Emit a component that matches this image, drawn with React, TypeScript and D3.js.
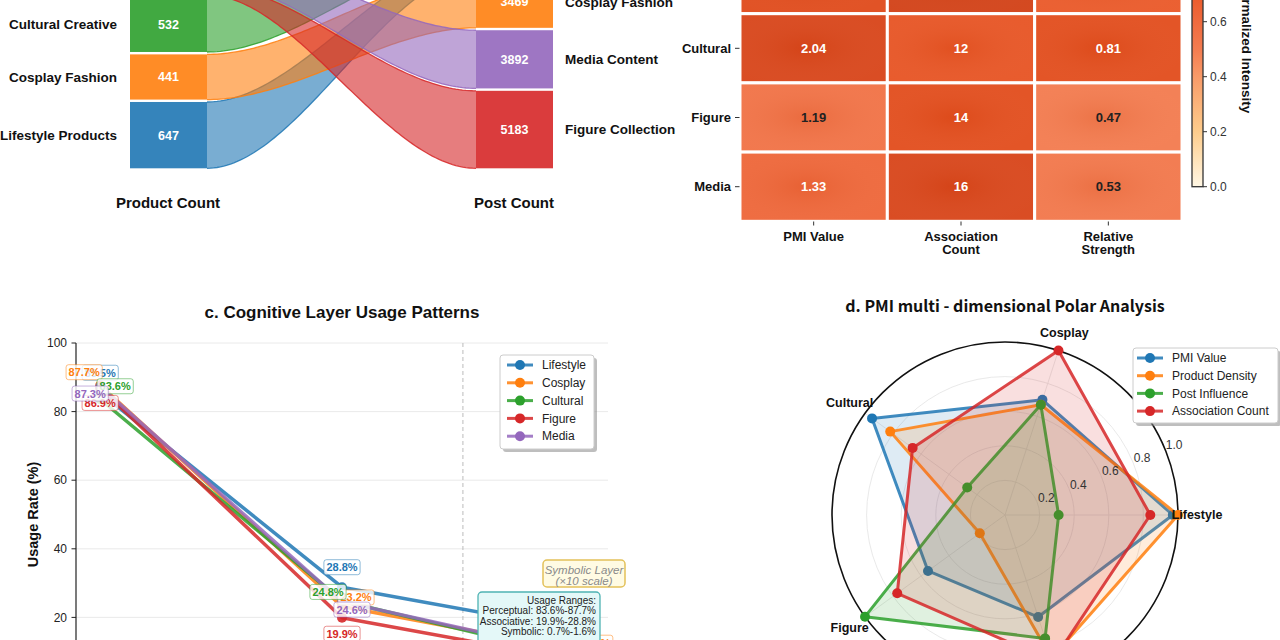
import React from "react";
import * as d3 from "d3";

const FONT = "'Liberation Sans', Arial, Helvetica, sans-serif";
const FONT_D = "'Noto Sans CJK SC', 'Noto Sans', sans-serif";

// ---------- Panel a : product / post flow ----------
const categoryNames = ["Lifestyle Products", "Cosplay Fashion", "Cultural Creative", "Figure Collection", "Media Content"];
const productCounts = [647, 441, 532, 100, 290];
const postCounts = [1000, 3469, 320, 5183, 3892];
const productStackBottomUp = [0, 1, 2, 3, 4];
const postStackBottomUp = [3, 4, 1, 0, 2];
const categoryColors = ["#1f77b4", "#ff7f0e", "#2ca02c", "#d62728", "#9467bd"];

// ---------- Panel b : heatmap ----------
const heatRows = ["Cosplay", "Cultural", "Figure", "Media"];
const heatCols = [["PMI Value"], ["Association", "Count"], ["Relative", "Strength"]];
const pmiValues = [1.76, 2.04, 1.19, 1.33];
const associationCounts = [18, 12, 14, 16];
const relativeStrength = [0.7, 0.81, 0.47, 0.53];
const intensityPMI = [0.82, 0.88, 0.55, 0.62];
const intensityAssoc = [0.92, 0.74, 0.8, 0.88];
const intensityRS = [0.7, 0.8, 0.5, 0.52];
const colorbarTicks = [0, 0.2, 0.4, 0.6, 0.8, 1.0];

// ---------- Panel c : layer usage ----------
const layerNames = ["Perceptual", "Associative", "Symbolic"];
const seriesNames = ["Lifestyle", "Cosplay", "Cultural", "Figure", "Media"];
const perceptualRates = [85.5, 87.7, 83.6, 86.9, 87.3];
const associativeRates = [28.8, 23.2, 24.8, 19.9, 24.6];
const symbolicRates = [1.6, 1.0, 0.8, 0.7, 0.9];
const symbolicScale = 10;
const yTicksC = [0, 20, 40, 60, 80, 100];

// ---------- Panel d : polar ----------
const polarAxes = ["Lifestyle", "Cosplay", "Cultural", "Figure", "Media"];
const polarSeries = ["PMI Value", "Product Density", "Post Influence", "Association Count"];
const pmiNorm = [0.97, 0.7, 0.95, 0.55, 0.62];
const productDensity = [1.0, 0.67, 0.82, 0.18, 0.87];
const postInfluence = [0.31, 0.67, 0.27, 1.0, 0.75];
const associationNorm = [0.84, 1.0, 0.66, 0.77, 0.89];
const polarTicks = [0.2, 0.4, 0.6, 0.8, 1.0];

// label offsets (style) for panel c annotations, per layer, per series
const labelOffsets = [
  [[0, -20], [-16, -13], [15, -13], [0, 15], [-10, 7]],
  [[0, -20], [14, -9], [-14, -9], [0, 16], [10, 8]],
  [[0, -20], [14, -9], [-14, -9], [0, 16], [10, 8]],
];

let _ctx: CanvasRenderingContext2D | null = null;
function measure(text: string, font: string) {
  if (!_ctx) _ctx = document.createElement("canvas").getContext("2d");
  if (!_ctx) return text.length * 6;
  _ctx.font = font;
  return _ctx.measureText(text).width;
}

const smooth = (f: number) => f * f * (3 - 2 * f);

function Sankey() {
  const xL0 = 130, xL1 = 207, xR0 = 476, xR1 = 553, base = 168.3, gap = 2.4;
  const hProd = d3.scaleLinear().domain([0, 1000]).range([0, 102.5]);
  const hPost = d3.scaleLinear().domain([0, 1000]).range([0, 14.95]);
  const stack = (order: number[], vals: number[], h: any) => {
    const out: [number, number][] = [];
    let y = base;
    order.forEach((i) => {
      const hh = h(vals[i]);
      out[i] = [y - hh, y];
      y -= hh + gap;
    });
    return out;
  };
  const L = stack(productStackBottomUp, productCounts, hProd);
  const R = stack(postStackBottomUp, postCounts, hPost);
  const xs = d3.scaleLinear().domain([0, 1]).range([xL1, xR0]);
  const fs = d3.range(0, 81).map((k) => k / 80);
  return (
    <g>
      {categoryNames.map((_, i) => {
        const [lt, lb] = L[i];
        const [rt, rb] = R[i];
        const yt = (f: number) => lt + (rt - lt) * smooth(f);
        const yb = (f: number) => lb + (rb - lb) * smooth(f);
        const area = d3.area<number>().x((f) => xs(f)).y0(yt).y1(yb)(fs) || "";
        const top = d3.line<number>().x((f) => xs(f)).y(yt)(fs) || "";
        const bot = d3.line<number>().x((f) => xs(f)).y(yb)(fs) || "";
        const c = categoryColors[i];
        return (
          <g key={i}>
            <path d={area} fill={c} fillOpacity={0.6} />
            <path d={top} fill="none" stroke={c} strokeWidth={1.3} strokeOpacity={0.85} />
            <path d={bot} fill="none" stroke={c} strokeWidth={1.3} strokeOpacity={0.85} />
          </g>
        );
      })}
      {categoryNames.map((name, i) => {
        const [lt, lb] = L[i];
        const [rt, rb] = R[i];
        const c = categoryColors[i];
        return (
          <g key={"n" + i}>
            <rect x={xL0} y={lt} width={xL1 - xL0} height={lb - lt} fill={c} fillOpacity={0.9} />
            <rect x={xR0} y={rt} width={xR1 - xR0} height={rb - rt} fill={c} fillOpacity={0.9} />
            <text x={(xL0 + xL1) / 2} y={(lt + lb) / 2} dy="0.35em" textAnchor="middle" fill="#fff" fontWeight="bold" fontSize={12.5}>{productCounts[i]}</text>
            <text x={(xR0 + xR1) / 2} y={(rt + rb) / 2} dy="0.35em" textAnchor="middle" fill="#fff" fontWeight="bold" fontSize={12.5}>{postCounts[i]}</text>
            <text x={117} y={(lt + lb) / 2} dy="0.35em" textAnchor="end" fill="#111" fontWeight="bold" fontSize={13.5}>{name}</text>
            <text x={565} y={(rt + rb) / 2} dy="0.35em" textAnchor="start" fill="#111" fontWeight="bold" fontSize={13.5}>{name}</text>
          </g>
        );
      })}
      <text x={168} y={203} dy="0.35em" textAnchor="middle" fontWeight="bold" fontSize={15} fill="#111">Product Count</text>
      <text x={514} y={203} dy="0.35em" textAnchor="middle" fontWeight="bold" fontSize={15} fill="#111">Post Count</text>
    </g>
  );
}

const heatColor = d3
  .scaleLinear<string>()
  .domain([0, 0.2, 0.4, 0.5, 0.6, 0.7, 0.8, 0.9, 1])
  .range(["#fff7e4", "#fdcc8c", "#f89a68", "#f37c50", "#ef6a3e", "#ea5a2a", "#e24e1e", "#d6441a", "#c23a12"])
  .interpolate(d3.interpolateRgb);

function Heatmap() {
  const x = d3.scaleBand<number>().domain([0, 1, 2]).range([740, 1182]);
  const y = d3.scaleBand<string>().domain(heatRows).range([-55.5, 221.3]);
  const values = [pmiValues, associationCounts, relativeStrength];
  const intens = [intensityPMI, intensityAssoc, intensityRS];
  const fmt = [d3.format(".2f"), d3.format("d"), d3.format(".2f")];
  const cb = d3.scaleLinear().domain([0, 1]).range([186.7, -88.3]);
  const stops = d3.range(0, 21).map((k) => k / 20);
  return (
    <g>
      <defs>
        <linearGradient id="cbgrad" x1="0" y1="1" x2="0" y2="0">
          {stops.map((s) => (
            <stop key={s} offset={s} stopColor={heatColor(s)} />
          ))}
        </linearGradient>
        <radialGradient id="cellShade" cx="0.45" cy="0.5" r="0.6">
          <stop offset="0" stopColor="#b83000" stopOpacity={0.12} />
          <stop offset="1" stopColor="#ffffff" stopOpacity={0.04} />
        </radialGradient>
      </defs>
      {heatRows.map((r, ri) =>
        [0, 1, 2].map((ci) => {
          const v = intens[ci][ri];
          const bx = x(ci)!, by = y(r)!;
          return (
            <g key={r + ci}>
              <rect x={bx} y={by} width={x.bandwidth()} height={y.bandwidth()} fill={heatColor(v)} stroke="#fff" strokeWidth={3} />
              <rect x={bx + 1.5} y={by + 1.5} width={x.bandwidth() - 3} height={y.bandwidth() - 3} fill="url(#cellShade)" />
              <text x={bx + x.bandwidth() / 2} y={by + y.bandwidth() / 2} dy="0.35em" textAnchor="middle" fontWeight="bold" fontSize={13} fill={v > 0.6 ? "#fff" : "#222"}>
                {fmt[ci](values[ci][ri])}
              </text>
            </g>
          );
        })
      )}
      {heatRows.map((r) => (
        <g key={"yl" + r}>
          <line x1={735} x2={739.5} y1={y(r)! + y.bandwidth() / 2} y2={y(r)! + y.bandwidth() / 2} stroke="#333" strokeWidth={1} />
          <text x={731} y={y(r)! + y.bandwidth() / 2} dy="0.35em" textAnchor="end" fontWeight="bold" fontSize={13} fill="#111">{r}</text>
        </g>
      ))}
      {heatCols.map((lines, ci) => (
        <g key={"xl" + ci}>
          <line x1={x(ci)! + x.bandwidth() / 2} x2={x(ci)! + x.bandwidth() / 2} y1={221.5} y2={225.5} stroke="#333" strokeWidth={1} />
          {lines.map((t, k) => (
            <text key={k} x={x(ci)! + x.bandwidth() / 2} y={236 + k * 13.5} dy="0.35em" textAnchor="middle" fontWeight="bold" fontSize={13} fill="#111">{t}</text>
          ))}
        </g>
      ))}
      <rect x={1192} y={cb(1)} width={11} height={cb(0) - cb(1)} fill="url(#cbgrad)" stroke="#333" strokeWidth={1.3} />
      {colorbarTicks.map((t) => (
        <g key={"cb" + t}>
          <line x1={1203} x2={1207} y1={cb(t)} y2={cb(t)} stroke="#333" strokeWidth={1} />
          <text x={1210} y={cb(t)} dy="0.35em" fontSize={12} fill="#333">{t.toFixed(1)}</text>
        </g>
      ))}
      <text transform={`translate(1247,${(cb(0) + cb(1)) / 2 - 2}) rotate(90)`} textAnchor="middle" dy="0.35em" fontWeight="bold" fontSize={13.5} fill="#111">Normalized Intensity</text>
    </g>
  );
}

function LegendBox({ x, y, w, h, items, colors, hx0, hx1, tx, step, y0 }: any) {
  return (
    <g>
      <rect x={x + 3} y={y + 3} width={w} height={h} rx={3} fill="#888" fillOpacity={0.55} />
      <rect x={x} y={y} width={w} height={h} rx={3} fill="#fff" stroke="#ccc" strokeWidth={1} />
      {items.map((it: string, i: number) => (
        <g key={it}>
          <line x1={hx0} x2={hx1} y1={y0 + i * step} y2={y0 + i * step} stroke={colors[i]} strokeWidth={3} strokeOpacity={0.85} />
          <circle cx={(hx0 + hx1) / 2} cy={y0 + i * step} r={5} fill={colors[i]} />
          <text x={tx} y={y0 + i * step} dy="0.35em" fontSize={12} fill="#222">{it}</text>
        </g>
      ))}
    </g>
  );
}

function LinePanel() {
  const x = d3.scaleLinear().domain([-0.1, 2.1]).range([76, 608]);
  const y = d3.scaleLinear().domain([0, 100]).range([686, 343]);
  const lineGen = d3.line<[number, number]>().x((d) => x(d[0])).y((d) => y(d[1]));
  const series = seriesNames.map((_, i) => [perceptualRates[i], associativeRates[i], symbolicRates[i] * symbolicScale]);
  const raw = seriesNames.map((_, i) => [perceptualRates[i], associativeRates[i], symbolicRates[i]]);
  const lblFont = `bold 11px ${FONT}`;
  const pMin = d3.min(perceptualRates)!, pMax = d3.max(perceptualRates)!;
  const aMin = d3.min(associativeRates)!, aMax = d3.max(associativeRates)!;
  const sMin = d3.min(symbolicRates)!, sMax = d3.max(symbolicRates)!;
  const rangeLines = [
    "Usage Ranges:",
    `Perceptual: ${pMin.toFixed(1)}%-${pMax.toFixed(1)}%`,
    `Associative: ${aMin.toFixed(1)}%-${aMax.toFixed(1)}%`,
    `Symbolic: ${sMin.toFixed(1)}%-${sMax.toFixed(1)}%`,
  ];
  return (
    <g>
      <text x={342} y={312} dy="0.35em" textAnchor="middle" fontWeight="bold" fontSize={17} fill="#111">c. Cognitive Layer Usage Patterns</text>
      {yTicksC.map((t) => (
        <line key={"g" + t} x1={76} x2={608} y1={y(t)} y2={y(t)} stroke="#e4e4e4" strokeWidth={0.8} />
      ))}
      <line x1={x(1.5)} x2={x(1.5)} y1={y(100)} y2={y(0)} stroke="#bbb" strokeWidth={1} strokeDasharray="4,3" />
      <line x1={76} x2={76} y1={y(100)} y2={y(0)} stroke="#222" strokeWidth={1.2} />
      {yTicksC.map((t) => (
        <g key={"t" + t}>
          <line x1={71.5} x2={76} y1={y(t)} y2={y(t)} stroke="#222" strokeWidth={1} />
          <text x={67} y={y(t)} dy="0.35em" textAnchor="end" fontSize={12} fill="#222">{t}</text>
        </g>
      ))}
      <text transform={`translate(33,${(y(0) + y(100)) / 2}) rotate(-90)`} textAnchor="middle" dy="0.35em" fontWeight="bold" fontSize={14.5} fill="#111">Usage Rate (%)</text>
      {series.map((s, i) => (
        <g key={"s" + i}>
          <path d={lineGen(s.map((v, k) => [k, v] as [number, number])) || ""} fill="none" stroke={categoryColors[i]} strokeWidth={3.5} strokeOpacity={0.85} strokeLinejoin="round" />
          {s.map((v, k) => (
            <circle key={k} cx={x(k)} cy={y(v)} r={5} fill={categoryColors[i]} fillOpacity={0.9} />
          ))}
        </g>
      ))}
      {layerNames.map((_, k) =>
        series.map((s, i) => {
          const label = `${raw[i][k].toFixed(1)}%`;
          const w = measure(label, lblFont) + 5;
          const cx = x(k) + labelOffsets[k][i][0];
          const cy = y(s[k]) + labelOffsets[k][i][1];
          return (
            <g key={"l" + k + i}>
              <rect x={cx - w / 2} y={cy - 7.5} width={w} height={15} rx={2.5} fill="#fff" fillOpacity={0.82} stroke={categoryColors[i]} strokeOpacity={0.5} strokeWidth={1} />
              <text x={cx} y={cy} dy="0.36em" textAnchor="middle" fontWeight="bold" fontSize={11} fill={categoryColors[i]}>{label}</text>
            </g>
          );
        })
      )}
      <LegendBox x={500} y={355} w={94} h={94} items={seriesNames} colors={categoryColors} hx0={507} hx1={533} tx={542} step={17.8} y0={365} />
      <rect x={543} y={560} width={82} height={27} rx={4} fill="#fffbe3" stroke="#e3c15a" strokeWidth={1.5} />
      <text x={584} y={569.5} dy="0.35em" textAnchor="middle" fontStyle="italic" fontSize={11.5} fill="#8a8a8a">Symbolic Layer</text>
      <text x={584} y={581} dy="0.35em" textAnchor="middle" fontStyle="italic" fontSize={11.5} fill="#8a8a8a">(×10 scale)</text>
      <rect x={478} y={592} width={122} height={60} rx={4} fill="#e4f8f8" stroke="#4fb3b3" strokeWidth={1.3} />
      {rangeLines.map((t, k) => (
        <text key={t} x={596} y={600.5 + k * 10.3} dy="0.35em" textAnchor="end" fontSize={10} fill="#222">{t}</text>
      ))}
    </g>
  );
}

function PolarPanel() {
  const cx = 1005, cy = 515, R = 173;
  const r = d3.scaleLinear().domain([0, 1]).range([0, R]);
  const ang = (k: number) => (k * 2 * Math.PI) / polarAxes.length;
  const pt = (k: number, v: number): [number, number] => [cx + r(v) * Math.cos(ang(k)), cy - r(v) * Math.sin(ang(k))];
  const data = [pmiNorm, productDensity, postInfluence, associationNorm];
  const tickAng = (22.5 * Math.PI) / 180;
  return (
    <g>
      <text x={1005} y={306} dy="0.35em" textAnchor="middle" fontWeight="bold" fontSize={16} fill="#111" fontFamily={FONT_D}>d. PMI multi - dimensional Polar Analysis</text>
      {polarTicks.slice(0, -1).map((t) => (
        <circle key={"c" + t} cx={cx} cy={cy} r={r(t)} fill="none" stroke="#e6e6e6" strokeWidth={0.9} />
      ))}
      {polarAxes.map((_, k) => {
        const [px, py] = pt(k, 1);
        return <line key={"sp" + k} x1={cx} y1={cy} x2={px} y2={py} stroke="#e6e6e6" strokeWidth={0.9} />;
      })}
      <circle cx={cx} cy={cy} r={R} fill="none" stroke="#111" strokeWidth={1.6} />
      {data.map((vals, s) => {
        const pts = vals.map((v, k) => pt(k, v));
        const d = d3.line().curve(d3.curveLinearClosed)(pts) || "";
        return (
          <g key={"p" + s}>
            <path d={d} fill={categoryColors[s]} fillOpacity={0.15} stroke={categoryColors[s]} strokeWidth={3} strokeOpacity={0.85} strokeLinejoin="round" />
            {pts.map((p, k) => (
              <circle key={k} cx={p[0]} cy={p[1]} r={5} fill={categoryColors[s]} />
            ))}
          </g>
        );
      })}
      {polarTicks.map((t) => (
        <text key={"rt" + t} x={cx + r(t) * Math.cos(tickAng) + 1} y={cy - r(t) * Math.sin(tickAng)} fontSize={12} fill="#333">{t.toFixed(1)}</text>
      ))}
      {polarAxes.map((a, k) => {
        const lx = cx + (R + 19) * Math.cos(ang(k));
        const ly = cy - (R + 19) * Math.sin(ang(k));
        return (
          <text key={"ax" + a} x={lx} y={ly} dy="0.35em" textAnchor="middle" fontWeight="bold" fontSize={12.5} fill="#111">{a}</text>
        );
      })}
      <LegendBox x={1133} y={348} w={145} h={75} items={polarSeries} colors={categoryColors} hx0={1137} hx1={1163} tx={1172} step={17.7} y0={358} />
    </g>
  );
}

export default function App() {
  return (
    <svg width={1280} height={640} viewBox="0 0 1280 640" style={{ position: "absolute", left: 0, top: 0, background: "#fff" }} fontFamily={FONT}>
      <rect x={0} y={0} width={1280} height={640} fill="#fff" />
      <Sankey />
      <Heatmap />
      <LinePanel />
      <PolarPanel />
    </svg>
  );
}
